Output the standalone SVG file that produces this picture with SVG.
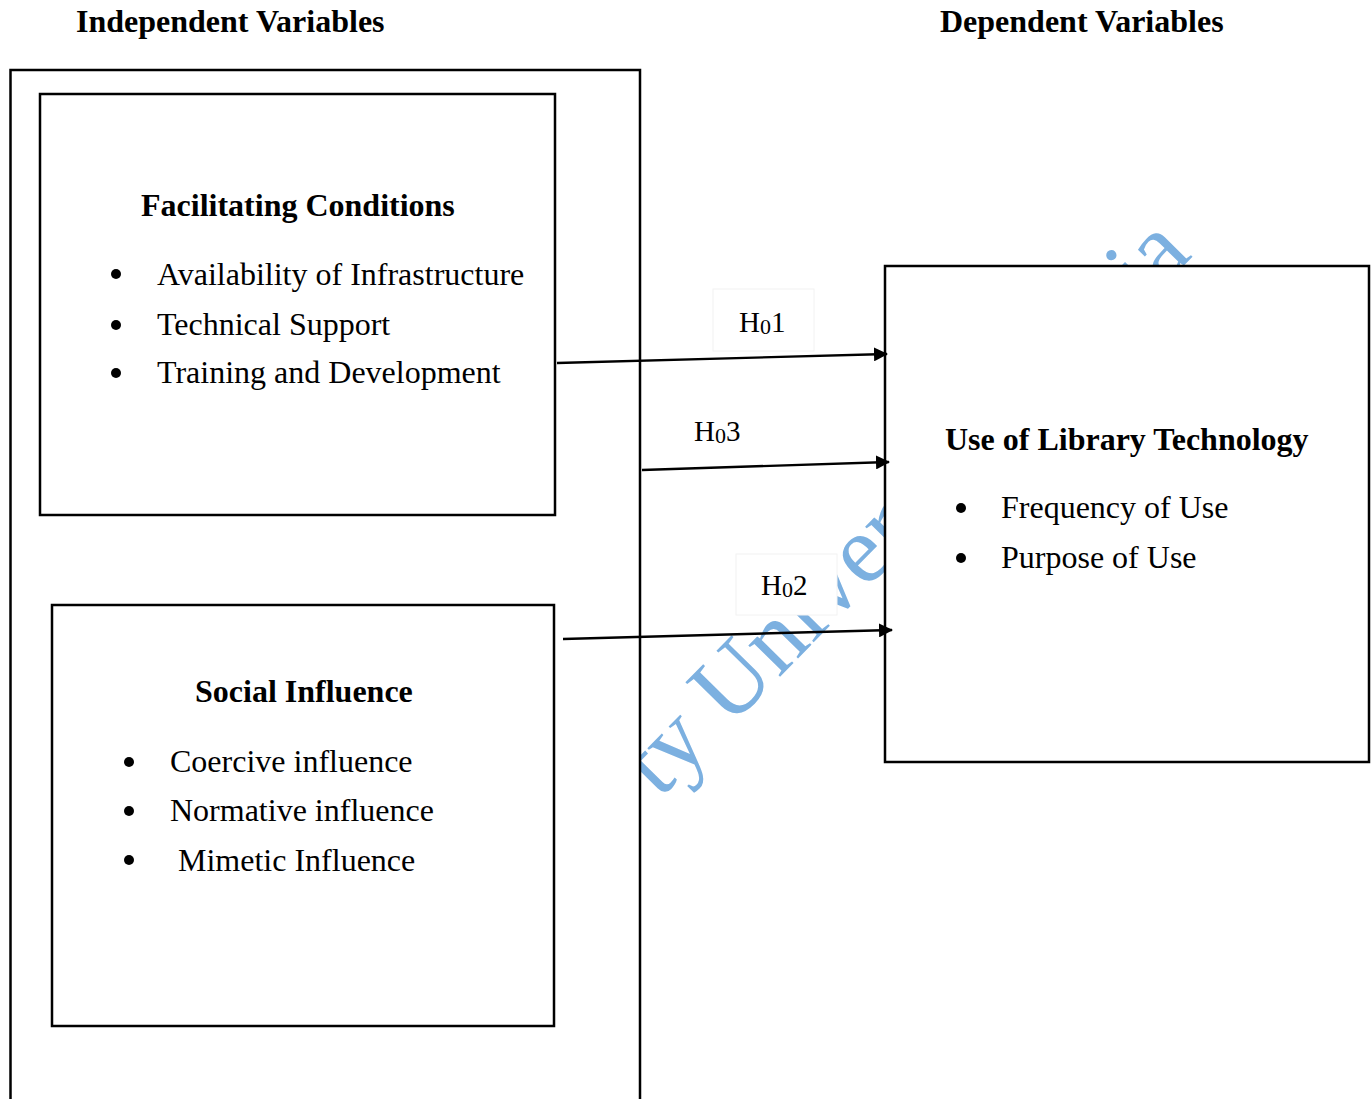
<svg xmlns="http://www.w3.org/2000/svg" width="1372" height="1099" viewBox="0 0 1372 1099">
<defs>
<style>
.serif{font-family:"Liberation Serif","Times New Roman",serif;fill:#000}
.hdr{font-size:32px;font-weight:bold}
.item{font-size:32px}
.hl{font-size:29px}
.sub{font-size:22px}
.box{fill:#fff;stroke:#000;stroke-width:2.5}
.lbl{fill:#fff;stroke:#f2f2f2;stroke-width:1}
.conn{stroke:#000;stroke-width:2.4;fill:none}
.wm{font-family:"Liberation Serif","Times New Roman",serif;font-size:97px;fill:#7cb0e0}
</style>
<marker id="ah" viewBox="0 0 14 14" refX="13" refY="7" markerWidth="14" markerHeight="14" markerUnits="userSpaceOnUse" orient="auto">
<path d="M0,0 L14,7 L0,14 z" fill="#000"/>
</marker>
</defs>
<rect width="1372" height="1099" fill="#fff"/>

<g id="watermark" transform="translate(659.4,799.4) rotate(-45.5)">
<text class="wm" x="0" y="0">ty Univer</text>
<text class="wm" x="692" y="0">ia</text>
</g>

<text class="serif hdr" x="76" y="32">Independent Variables</text>
<text class="serif hdr" x="940" y="32">Dependent Variables</text>

<g id="independent-group">
<path class="box" d="M10.5,1110 V70 H640 V1110"/>
</g>

<g id="facilitating-conditions">
<rect class="box" x="40" y="94" width="515" height="421"/>
<text class="serif hdr" x="141" y="216">Facilitating Conditions</text>
<circle cx="116" cy="274" r="5"/>
<circle cx="116" cy="325" r="5"/>
<circle cx="116" cy="373" r="5"/>
<text class="serif item" x="157" y="285">Availability of Infrastructure</text>
<text class="serif item" x="157" y="335">Technical Support</text>
<text class="serif item" x="157" y="383">Training and Development</text>
</g>

<g id="social-influence">
<rect class="box" x="52" y="605" width="502" height="421"/>
<text class="serif hdr" x="195" y="702">Social Influence</text>
<circle cx="129" cy="762" r="5"/>
<circle cx="129" cy="811" r="5"/>
<circle cx="129" cy="860" r="5"/>
<text class="serif item" x="170" y="772">Coercive influence</text>
<text class="serif item" x="170" y="821">Normative influence</text>
<text class="serif item" x="178" y="871">Mimetic Influence</text>
</g>

<g id="use-of-library-technology">
<rect class="box" x="885" y="266" width="484" height="496"/>
<text class="serif hdr" x="945" y="450">Use of Library Technology</text>
<circle cx="961" cy="508" r="5"/>
<circle cx="961" cy="558" r="5"/>
<text class="serif item" x="1001" y="518">Frequency of Use</text>
<text class="serif item" x="1001" y="568">Purpose of Use</text>
</g>

<g id="label-h01">
<rect class="lbl" x="713" y="289" width="101" height="62"/>
<text class="serif hl" x="739" y="332">H<tspan class="sub" dy="2">0</tspan><tspan dy="-2">1</tspan></text>
</g>
<g id="label-h03">
<text class="serif hl" x="694" y="441">H<tspan class="sub" dy="2">0</tspan><tspan dy="-2">3</tspan></text>
</g>
<g id="label-h02">
<rect class="lbl" x="736" y="554" width="101" height="61"/>
<text class="serif hl" x="761" y="595">H<tspan class="sub" dy="2">0</tspan><tspan dy="-2">2</tspan></text>
</g>

<g id="connectors">
<line class="conn" x1="557" y1="363" x2="887" y2="354" marker-end="url(#ah)"/>
<line class="conn" x1="642" y1="470" x2="889" y2="462" marker-end="url(#ah)"/>
<line class="conn" x1="563" y1="639" x2="892" y2="630" marker-end="url(#ah)"/>
</g>
</svg>
